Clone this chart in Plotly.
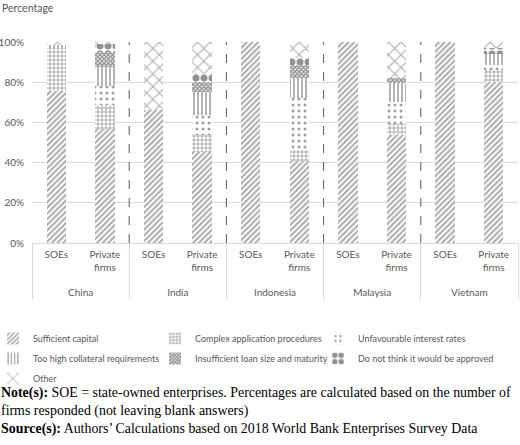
import plotly.graph_objects as go

COUNTRIES = ["China", "India", "Indonesia", "Malaysia", "Vietnam"]
# trailing non-breaking line leaves room between the two label levels
FIRM_TYPES = ["SOEs", "Private<br>firms<br>\u00a0"]

SERIES_NAMES = [
    "Sufficient capital",
    "Complex application procedures",
    "Unfavourable interest rates",
    "Too high collateral requirements",
    "Insufficient loan size and maturity",
    "Do not think it would be approved",
    "Other",
]

# values in %, order: China SOEs, China private, India SOEs, ...
sufficient = [75.5, 56.6, 66.0, 45.5, 100, 40.8, 100, 53.7, 100, 80.3]
complex_proc = [21.5, 12.3, 0, 8.2, 0, 5.5, 0, 5.3, 0, 5.6]
unfavourable = [0, 9.1, 0, 10.0, 0, 25.7, 0, 11.3, 0, 2.6]
collateral = [1.5, 9.4, 0, 11.6, 0, 10.3, 0, 9.5, 0, 5.7]
insufficient = [0, 7.5, 0, 5.0, 0, 6.3, 0, 2.5, 0, 0]
not_approved = [0, 4.3, 0, 4.3, 0, 3.3, 0, 0, 0, 2.7]
other = [1.5, 0.8, 34.0, 15.4, 0, 8.1, 0, 17.7, 0, 3.1]

VALUES = [sufficient, complex_proc, unfavourable, collateral,
          insufficient, not_approved, other]

PATTERNS = [
    {"shape": "/", "size": 4, "solidity": 0.5, "fgcolor": "#555555"},
    {"shape": "+", "size": 4, "solidity": 0.4, "fgcolor": "#404040"},
    {"shape": ".", "size": 6, "solidity": 0.2, "fgcolor": "#404040"},
    {"shape": "|", "size": 4, "solidity": 0.4, "fgcolor": "#404040"},
    {"shape": "x", "size": 3, "solidity": 0.7, "fgcolor": "#262626"},
    {"shape": ".", "size": 8, "solidity": 0.6, "fgcolor": "#262626"},
    {"shape": "x", "size": 9, "solidity": 0.22, "fgcolor": "#595959"},
]

# legend laid out in 3 columns like the original (row-major order)
LEGEND_COLUMN = ["legend", "legend2", "legend3",
                 "legend", "legend2", "legend3",
                 "legend"]

GRAY = "#595959"
GRID = "#d9d9d9"

# plot area in pixels (used to place text outside it)
TOP, BOTTOM, LEFT, RIGHT = 42, 243, 32, 518
W, H = 520, 445


def py(y_px):
    return (BOTTOM - y_px) / (BOTTOM - TOP)


def px(x_px):
    return (x_px - LEFT) / (RIGHT - LEFT)


x_outer = [c for c in COUNTRIES for _ in FIRM_TYPES]
x_inner = [t for _ in COUNTRIES for t in FIRM_TYPES]

fig = go.Figure()
for name, vals, pat, leg in zip(SERIES_NAMES, VALUES, PATTERNS, LEGEND_COLUMN):
    fig.add_trace(
        go.Bar(
            x=[x_outer, x_inner],
            y=vals,
            name=name,
            legend=leg,
            legendgroup=name,
            marker={
                "color": "white",
                "line": {"width": 0},
                "pattern": {**pat, "bgcolor": "white", "fillmode": "overlay"},
            },
        )
    )

# dashed separators between countries
for i in range(1, len(COUNTRIES)):
    fig.add_shape(
        type="line", xref="x", yref="y",
        x0=2 * i - 0.5, x1=2 * i - 0.5, y0=0, y1=100,
        line={"color": GRAY, "width": 1, "dash": "dash"},
    )

fig.add_annotation(
    text="Percentage", xref="paper", yref="paper",
    x=px(0), y=py(8), xanchor="left", yanchor="middle",
    showarrow=False, font={"size": 10.5, "color": GRAY},
)

fig.add_annotation(
    text=(
        "<b>Note(s):</b> SOE = state-owned enterprises. Percentages are calculated based on the number of<br>"
        "firms responded (not leaving blank answers)<br>"
        "<b>Source(s):</b> Authors’ Calculations based on 2018 World Bank Enterprises Survey Data"
    ),
    xref="paper", yref="paper", x=px(-1), y=py(383),
    xanchor="left", yanchor="top", align="left", showarrow=False,
    font={"family": "Liberation Serif, Times New Roman, serif", "size": 13.9, "color": "black"},
)


def legend_box(x_text):
    return {
        "orientation": "v",
        "traceorder": "grouped",
        "tracegroupgap": 1,
        "x": px(x_text - 39), "y": py(324),
        "xanchor": "left", "yanchor": "top",
        "font": {"size": 9, "color": GRAY},
        "itemwidth": 30,
        "bgcolor": "rgba(0,0,0,0)",
    }


fig.update_layout(
    width=W,
    height=H,
    barmode="stack",
    bargap=0.6,
    template="plotly_white",
    paper_bgcolor="white",
    plot_bgcolor="white",
    font={"family": "Lato, Open Sans, sans-serif", "size": 10, "color": GRAY},
    margin={"l": LEFT, "r": W - RIGHT, "t": TOP, "b": H - BOTTOM, "autoexpand": False},
    showlegend=True,
    legend=legend_box(32),
    legend2=legend_box(194),
    legend3=legend_box(357),
    xaxis={
        "type": "multicategory",
        "automargin": False,
        "showline": True,
        "linecolor": GRID,
        "showgrid": False,
        "showdividers": True,
        "dividercolor": GRID,
        "dividerwidth": 1,
        "ticks": "",
        "ticklabelstandoff": 2,
        "tickfont": {"size": 10, "color": GRAY},
    },
    yaxis={
        "range": [0, 100],
        "dtick": 20,
        "ticksuffix": "%",
        "automargin": False,
        "ticklabelstandoff": 7,
        "gridcolor": GRID,
        "zeroline": False,
        "showline": False,
        "tickfont": {"size": 10, "color": GRAY},
    },
)

fig.write_html(
    "out.html",
    config={"displayModeBar": False},
    post_script="document.body.style.margin = '0';",
)
